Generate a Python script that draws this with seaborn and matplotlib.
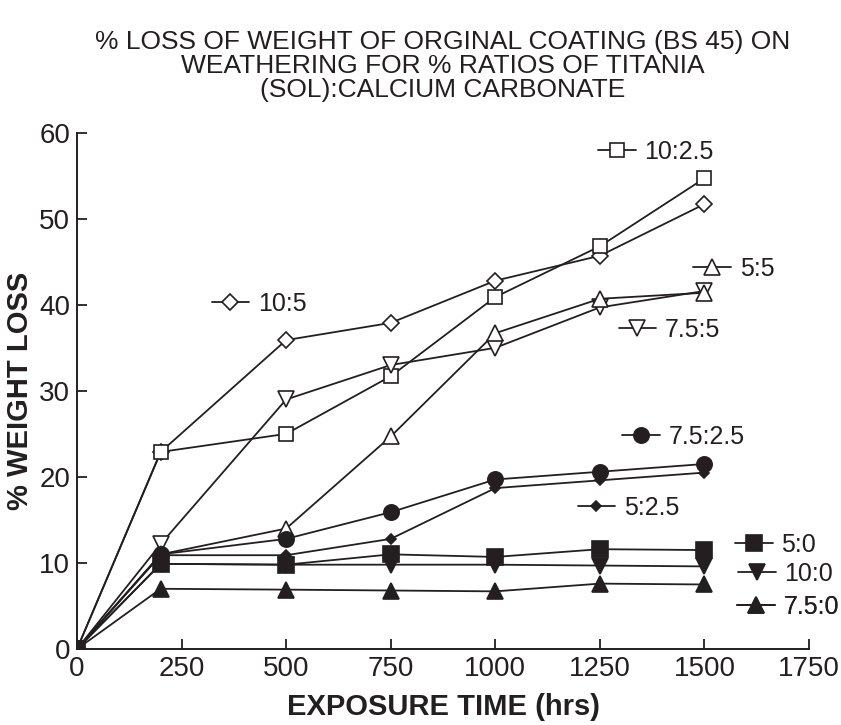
import matplotlib
matplotlib.use("Agg")
import matplotlib.pyplot as plt
import seaborn as sns
from matplotlib.lines import Line2D
from matplotlib import font_manager

sns.set_theme(style="ticks")
fams = [f.name for f in font_manager.fontManager.ttflist]
main_font = "Liberation Sans Narrow" if "Liberation Sans Narrow" in fams else "Liberation Sans"
plt.rcParams['font.family'] = [main_font, 'DejaVu Sans']

hours = [0, 200, 500, 750, 1000, 1250, 1500]

s_10_5 = [0, 22.9, 35.9, 37.9, 42.8, 45.7, 51.7]
s_10_25 = [0, 22.9, 25.0, 31.7, 40.9, 46.8, 54.7]
s_75_5 = [0, 12.2, 29.0, 33.0, 35.0, 39.7, 41.6]
s_5_5 = [0, 11.0, 14.0, 24.7, 36.7, 40.7, 41.4]
s_75_25 = [0, 11.0, 12.8, 15.9, 19.7, 20.6, 21.5]
s_5_25 = [0, 10.9, 10.9, 12.8, 18.7, 19.6, 20.5]
s_5_0 = [0, 9.9, 9.8, 11.0, 10.7, 11.6, 11.5]
s_10_0 = [0, 9.9, 9.8, 9.8, 9.8, 9.7, 9.6]
s_75_0 = [0, 7.0, 6.9, 6.8, 6.7, 7.6, 7.5]

labels = ["10:5", "10:2.5", "7.5:5", "5:5", "7.5:2.5", "5:2.5", "5:0", "10:0", "7.5:0"]
series = [s_10_5, s_10_25, s_75_5, s_5_5, s_75_25, s_5_25, s_5_0, s_10_0, s_75_0]

INK = "#231f20"
styles = {
    "10:5":    dict(marker="D", ms=8, mfc="white"),
    "10:2.5":  dict(marker="s", ms=10, mfc="white"),
    "7.5:5":   dict(marker="v", ms=12, mfc="white"),
    "5:5":     dict(marker="^", ms=12, mfc="white"),
    "7.5:2.5": dict(marker="o", ms=11, mfc=INK),
    "5:2.5":   dict(marker="D", ms=5, mfc=INK),
    "5:0":     dict(marker="s", ms=11, mfc=INK),
    "10:0":    dict(marker="v", ms=11, mfc=INK),
    "7.5:0":   dict(marker="^", ms=11, mfc=INK),
}
legend_pos = {
    "10:5": (0.184, 0.668), "10:2.5": (0.712, 0.963), "5:5": (0.842, 0.736),
    "7.5:5": (0.740, 0.618), "7.5:2.5": (0.745, 0.411), "5:2.5": (0.684, 0.273),
    "5:0": (0.899, 0.201), "10:0": (0.903, 0.145), "7.5:0": (0.902, 0.081),
}

fig = plt.figure(figsize=(8.41, 7.25), dpi=100)
ax = fig.add_axes([0.0916, 0.1048, 0.8704, 0.7122])

for lab, vals in zip(labels, series):
    st = styles[lab]
    sns.lineplot(x=hours, y=vals, ax=ax, color=INK, linewidth=1.3,
                 marker=st["marker"], markersize=st["ms"],
                 markerfacecolor=st["mfc"], markeredgecolor=INK,
                 markeredgewidth=1.2, legend=False)

for lab in labels:
    st = styles[lab]
    h = Line2D([], [], color=INK, linewidth=1.3, marker=st["marker"],
               markersize=st["ms"], markerfacecolor=st["mfc"],
               markeredgecolor=INK, markeredgewidth=1.2)
    leg = ax.legend(handles=[h], labels=[lab], loc="center left",
                    bbox_to_anchor=legend_pos[lab], frameon=False,
                    borderpad=0, borderaxespad=0, handlelength=1.5,
                    handletextpad=0.35, fontsize=18)
    for t in leg.get_texts():
        t.set_color(INK)
    ax.add_artist(leg)

ax.set_xlim(0, 1750)
ax.set_ylim(0, 60)
ax.set_xticks([0, 250, 500, 750, 1000, 1250, 1500, 1750])
ax.set_yticks([0, 10, 20, 30, 40, 50, 60])
ax.tick_params(direction="in", length=7, width=1.3, labelsize=20, colors=INK, pad=5)
ax.tick_params(axis="y", pad=5)
sns.despine(ax=ax)
for sp in ["left", "bottom"]:
    ax.spines[sp].set_linewidth(1.4)
    ax.spines[sp].set_color(INK)

ax.set_xlabel("EXPOSURE TIME (hrs)", fontsize=21, fontweight="bold", color=INK, labelpad=8)
ax.set_ylabel("% WEIGHT LOSS", fontsize=21, fontweight="bold", color=INK, labelpad=4)
ax.set_title("% LOSS OF WEIGHT OF ORGINAL COATING (BS 45) ON\nWEATHERING FOR % RATIOS OF TITANIA\n(SOL):CALCIUM CARBONATE",
             fontsize=19, color=INK, pad=26, linespacing=1.0)

fig.savefig("out.png", dpi=100, facecolor="white")
